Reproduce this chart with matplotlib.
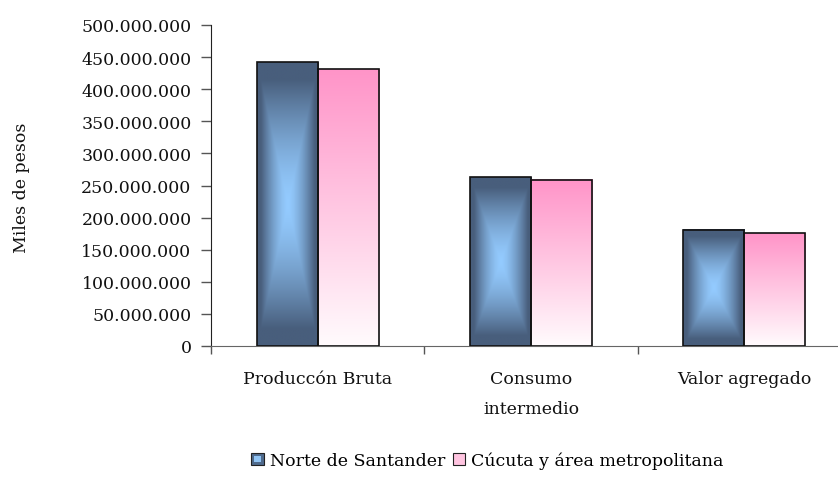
import numpy as np
import matplotlib
matplotlib.use("Agg")
from matplotlib import pyplot as plt
from matplotlib.patches import Rectangle
from matplotlib.legend_handler import HandlerBase

categorias = ["Produccón Bruta", "Consumo\nintermedio", "Valor agregado"]
norte = [442e6, 263e6, 181e6]
cucuta = [431e6, 259e6, 176e6]
series = ["Norte de Santander", "Cúcuta y área metropolitana"]
yticks = np.arange(0, 500e6 + 1, 50e6)

plt.rcParams['font.family'] = ['DejaVu Serif']

dark = np.array([0x48, 0x5e, 0x7c]) / 255
light = np.array([0x94, 0xcb, 0xff]) / 255
pink = np.array([0xff, 0x94, 0xc8]) / 255
white = np.array([0xff, 0xfb, 0xfd]) / 255


def box_grad(n=300, m=100):
    u = np.abs(np.linspace(-1, 1, m))[None, :]
    v = np.abs(np.linspace(-1, 1, n))[:, None]
    t = np.clip(np.maximum(u, v) / 0.88, 0, 1) ** 1.5
    return light[None, None, :] * (1 - t[..., None]) + dark[None, None, :] * t[..., None]


def vert_grad(n=200):
    t = np.linspace(0, 1, n)[:, None, None]  # 0 = bottom
    img = white * (1 - t) + pink * t
    return np.repeat(img, 2, axis=1)


fig = plt.figure(figsize=(8.38, 4.81), dpi=100)
ax = fig.add_axes([211/838, 134/481, 640/838, 321/481])

x = np.arange(len(categorias))
w = 0.286
b1 = ax.bar(x - w/2, norte, w, facecolor='none', edgecolor='#111111', linewidth=1.2, zorder=3)
b2 = ax.bar(x + w/2, cucuta, w, facecolor='none', edgecolor='#111111', linewidth=1.2, zorder=3)

for p in b1:
    x0, h = p.get_x(), p.get_height()
    ax.imshow(box_grad(), extent=(x0, x0 + p.get_width(), 0, h), origin='lower',
              aspect='auto', zorder=2, interpolation='bilinear')
for p in b2:
    x0, h = p.get_x(), p.get_height()
    ax.imshow(vert_grad(), extent=(x0, x0 + p.get_width(), 0, h), origin='lower',
              aspect='auto', zorder=2, interpolation='bilinear')

ax.set_xlim(-0.5, len(categorias) - 0.5)
ax.set_ylim(0, 500e6)

for s in ['top', 'right']:
    ax.spines[s].set_visible(False)
ax.spines['left'].set_color('#222222')
ax.spines['bottom'].set_color('#666666')

fs = 12.5
ax.set_yticks(yticks)
ax.set_yticklabels([f"{int(v):,}".replace(',', '.') for v in yticks])
ax.tick_params(axis='y', length=7, width=1, color='#555555', pad=7, labelsize=fs, labelcolor='#111111')

ax.set_xticks(np.arange(-0.5, len(categorias), 1.0))
ax.set_xticklabels([])
ax.tick_params(axis='x', which='major', length=6, width=1, color='#555555')
ax.set_xticks(x, minor=True)
ax.set_xticklabels(categorias, minor=True)
ax.tick_params(axis='x', which='minor', length=0, pad=17, labelsize=fs, labelcolor='#111111')
for lbl in ax.get_xticklabels(minor=True):
    lbl.set_linespacing(2.0)
    lbl.set_verticalalignment('top')

fig.text(22/838, 1 - 188/481, "Miles de pesos", rotation=90, ha='center', va='center',
         fontsize=12.5, color='#111111')


class BlueKey(HandlerBase):
    def create_artists(self, legend, orig, xd, yd, width, height, fontsize, trans):
        s = height * 1.05
        x0 = xd + (width - s) / 2
        outer = Rectangle((x0, yd - 0.05 * height), s, s, facecolor='#4f6a8c', edgecolor='#222222', lw=0.8, transform=trans)
        inner = Rectangle((x0 + s*0.25, yd - 0.05 * height + s*0.25), s*0.5, s*0.5, facecolor='#90c4f4', edgecolor='none', transform=trans)
        return [outer, inner]


class PinkKey(HandlerBase):
    def create_artists(self, legend, orig, xd, yd, width, height, fontsize, trans):
        s = height * 1.05
        x0 = xd + (width - s) / 2
        outer = Rectangle((x0, yd - 0.05 * height), s, s, facecolor='#ffc4e0', edgecolor='#222222', lw=0.8, transform=trans)
        return [outer]


fig.legend([b1, b2], series, loc='center', bbox_to_anchor=(487/838, 1 - 461/481), ncol=2,
           frameon=False, fontsize=fs, handlelength=0.8, handletextpad=0.3, columnspacing=0.4,
           handler_map={b1: BlueKey(), b2: PinkKey()})

fig.savefig("out.png", dpi=100)
